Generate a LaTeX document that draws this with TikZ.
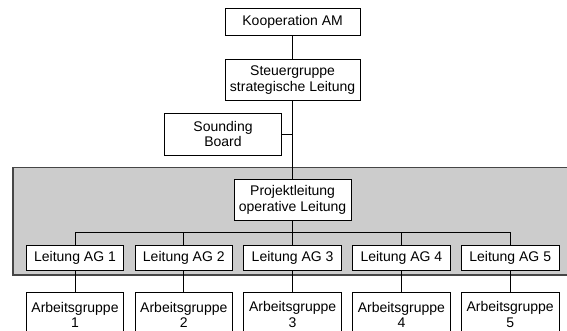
\documentclass[tikz,border=0pt]{standalone}
\usepackage{fontspec}
\setmainfont{Liberation Sans}
\definecolor{panelfill}{RGB}{204,204,204}
\definecolor{panelline}{RGB}{70,70,70}
\begin{document}
\begin{tikzpicture}[x=1pt,y=-1pt,
  box/.style={draw=black,line width=0.9pt,fill=white,inner sep=0pt,align=center,
    font=\fontsize{14}{15.5}\selectfont},
  conn/.style={draw=black,line width=0.9pt}]
\clip (0,0) rectangle (567,331);
\fill[white] (0,0) rectangle (567,331);
% grey panel
\path[fill=panelfill,draw=panelline,line width=1.3pt] (13,167.5) rectangle (590,275);
% nodes
\node[box,minimum width=135pt,minimum height=26.7pt] (koop) at (292.6,21.7) {Kooperation AM};
\node[box,minimum width=135pt,minimum height=41.4pt] (steuer) at (292.6,80) {Steuergruppe\\strategische Leitung};
\node[box,minimum width=117.4pt,minimum height=41.7pt] (sound) at (223,134.2) {Sounding\\Board};
\node[box,minimum width=116.7pt,minimum height=41.7pt] (proj) at (292.6,199.9) {Projektleitung\\operative Leitung};
\foreach \i in {1,...,5}{
  \pgfmathsetmacro{\xx}{75+108.8*(\i-1)}
  \node[box,minimum width=97.5pt,minimum height=25pt] (ag\i) at (\xx,257.5) {Leitung AG \i};
  \node[box,minimum width=97.5pt,minimum height=44pt] (arb\i) at (\xx,314.7) {Arbeitsgruppe\\\i};
}
\coordinate (bus) at (292.6,232);
% connectors
\draw[conn] (koop.south) -- (steuer.north);
\draw[conn] (steuer.south) -- (proj.north);
\draw[conn] (sound.east) -- (steuer.south |- sound.east);
\draw[conn] (proj.south) -- (bus);
\foreach \i in {1,...,5}{
  \draw[conn] (ag\i.north) |- (bus);
  \draw[conn] (ag\i.south) -- (arb\i.north);
}
\end{tikzpicture}
\end{document}
